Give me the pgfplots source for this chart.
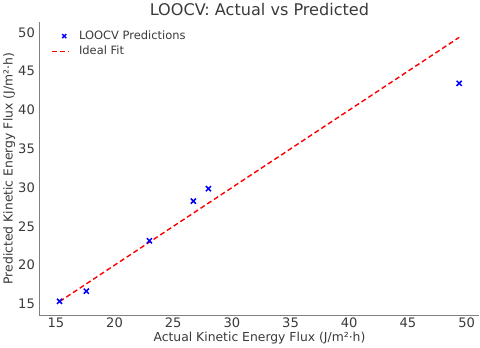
\documentclass[border=0pt]{standalone}
\usepackage{fontspec}
\setmainfont{DejaVu Sans}
\usepackage{pgfplots}
\pgfplotsset{compat=1.18}
\definecolor{txt}{HTML}{3A3A3A}
\definecolor{spine}{HTML}{808080}
\pgfplotsset{
  marklegend/.style={legend image code/.code={
    \draw[##1, mark size=2.8pt] plot coordinates {(12bp,0bp)};}},
}
\begin{document}
\begin{tikzpicture}
\begin{axis}[
  scale only axis, width=436bp, height=290bp,
  xmin=13.6, xmax=51.1, ymin=13.57, ymax=51.3,
  axis x line*=bottom, axis y line*=left,
  axis line style={spine, line width=1pt},
  xtick={15,20,...,50}, ytick={15,20,...,50},
  major tick length=0pt,
  tick label style={font=\fontsize{13}{15}\selectfont, text=txt},
  /pgf/number format/assume math mode=true,
  xticklabel style={yshift=1pt},
  yticklabel style={xshift=-1pt},
  label style={font=\fontsize{12.3}{14}\selectfont, text=txt},
  xlabel={Actual Kinetic Energy Flux (J/m²·h)},
  ylabel={Predicted Kinetic Energy Flux (J/m²·h)},
  xlabel style={yshift=2pt},
  ylabel style={yshift=-4pt},
  title={LOOCV: Actual vs Predicted},
  title style={font=\fontsize{16}{18}\selectfont, text=txt, yshift=-3pt},
  legend style={draw=none, fill=none, at={(0.02,0.985)}, anchor=north west,
    font=\fontsize{11.4}{13}\selectfont, text=txt, row sep=1pt, column sep=7bp},
  legend cell align=left,
]
\addplot[only marks, mark=x, mark size=3.6pt, blue, line width=1.5pt, marklegend] coordinates {
(15.32,15.35) (17.6,16.65) (22.97,23.15) (26.72,28.26) (28.0,29.86) (49.37,43.44)};
\addlegendentry{LOOCV Predictions}
\addplot[red, dashed, line width=1.4pt, dash pattern=on 5pt off 3pt] coordinates {
(15.32,15.32) (49.37,49.37)};
\addlegendentry{Ideal Fit}
\end{axis}
\end{tikzpicture}
\end{document}
